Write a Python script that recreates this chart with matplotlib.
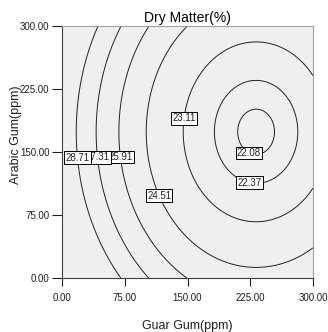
import numpy as np
import matplotlib
matplotlib.use('Agg')
import matplotlib.pyplot as plt

# response surface: quadratic model around its minimum
dm_min = 22.01
guar_centre = 232.0
arabic_centre = 174.0
coef_guar = 1.45e-4
coef_arabic = 9.6e-5

levels = [22.08, 22.37, 23.11, 24.51, 25.91, 27.31, 28.71]
# where the boxed labels sit (guar, arabic)
label_pos = [(224, 150), (224, 113), (145, 190), (118, 99),
             (59, 143), (38, 143), (14, 143)]

ticks = [0, 75, 150, 225, 300]
tick_labels = ['0.00', '75.00', '150.00', '225.00', '300.00']

plt.rcParams['font.family'] = ['Liberation Sans', 'DejaVu Sans']

guar = np.linspace(0, 300, 301)
arabic = np.linspace(0, 300, 301)
G, A = np.meshgrid(guar, arabic)
Z = dm_min + coef_guar * (G - guar_centre) ** 2 + coef_arabic * (A - arabic_centre) ** 2

fig = plt.figure(figsize=(3.28, 3.32), dpi=100)
ax = fig.add_axes([62 / 328, 1 - 278 / 332, 251 / 328, 252 / 332])
ax.set_facecolor('#efefef')

cs = ax.contour(G, A, Z, levels=levels, colors='#222222', linewidths=0.7)
texts = ax.clabel(cs, fmt='%.2f', inline=False, manual=label_pos, fontsize=7)
for t in texts:
    t.set_rotation(0)
    t.set_bbox(dict(boxstyle='square,pad=0.12', fc='white', ec='black', lw=0.7))
    # higher levels drawn on top, like the left-hand cluster in the original
    lev = float(t.get_text())
    t.set_zorder(5 + lev / 10)

ax.set_xlim(0, 300)
ax.set_ylim(0, 300)
ax.set_xticks(ticks)
ax.set_xticklabels(tick_labels)
ax.set_yticks(ticks)
ax.set_yticklabels(tick_labels)
ax.tick_params(axis='x', direction='out', length=6, width=0.8, pad=5, labelsize=7, colors='#202020')
ax.tick_params(axis='y', direction='out', length=7, width=0.8, pad=2, labelsize=7, colors='#202020')

for side in ['left', 'bottom']:
    ax.spines[side].set_color('#404040')
    ax.spines[side].set_linewidth(0.8)
for side in ['top', 'right']:
    ax.spines[side].set_color('#a0a0a0')
    ax.spines[side].set_linewidth(0.8)

ax.set_title('Dry Matter(%)', fontsize=10, pad=3)
ax.set_xlabel('Guar Gum(ppm)', fontsize=9, labelpad=12, color='#202020')
ax.set_ylabel('Arabic Gum(ppm)', fontsize=9, color='#202020')
ax.yaxis.set_label_coords(-0.16, 0.57)

fig.savefig('out.png', dpi=100)
